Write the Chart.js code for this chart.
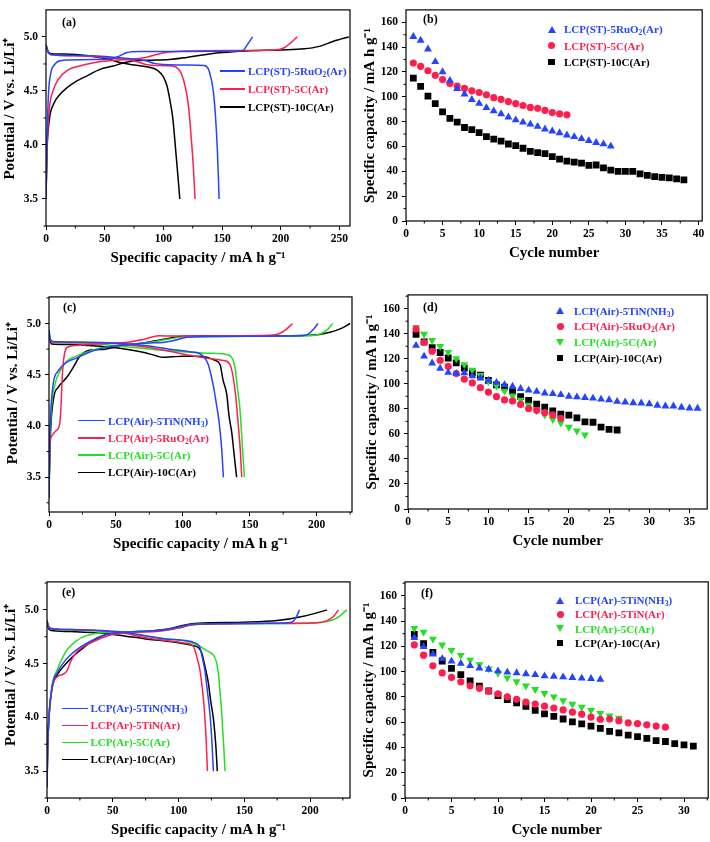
<!DOCTYPE html>
<html>
<head>
<meta charset="utf-8">
<script src="https://cdn.jsdelivr.net/npm/chart.js@4.4.1/dist/chart.umd.min.js"></script>
<style>
  body { margin: 0; background: #fff; width: 710px; height: 842px; position: relative; overflow: hidden;
         font-family: "Liberation Serif", "Times New Roman", serif; font-weight: bold; }
  canvas { position: absolute; }
  .lg { position: absolute; font-size: 11px; line-height: 1; white-space: nowrap; transform: translateY(-50%); }
  .lg sub { font-size: 70%; vertical-align: -0.3em; line-height: 0; }
  .mk { position: absolute; }
  .tag { position: absolute; font-size: 12px; line-height: 1; transform: translateY(-50%); color: #000; }
</style>
</head>
<body>
<script>
const BLUE = '#2444ff', RED = '#ff1f4f', GREEN = '#22e022', BLACK = '#000000';

// tick labels
const potentialTicks = [3.5, 4.0, 4.5, 5.0];
const capacityTicks = [0, 20, 40, 60, 80, 100, 120, 140, 160];
const specCapTicksA = [0, 50, 100, 150, 200, 250];
const specCapTicks = [0, 50, 100, 150, 200];
const cycleTicksB = [0, 5, 10, 15, 20, 25, 30, 35, 40];
const cycleTicksD = [0, 5, 10, 15, 20, 25, 30, 35];
const cycleTicksF = [0, 5, 10, 15, 20, 25, 30];

// ---- (a) charge / discharge curves, [capacity, potential]
const aRuCharge = [[0,3.5],[0.8,4.0],[2,4.45],[4,4.66],[7,4.74],[12,4.78],[20,4.786],[40,4.79],[55,4.795],[62,4.82],[69,4.855],[80,4.865],[120,4.866],[160,4.868],[168,4.875],[171,4.92],[176,5.0]];
const aRuDischarge = [[0,4.92],[2,4.86],[5,4.835],[20,4.828],[40,4.825],[55,4.815],[70,4.8],[85,4.78],[92,4.755],[100,4.745],[120,4.74],[135,4.735],[138.5,4.7],[140.5,4.62],[142.5,4.5],[144.5,4.25],[146,3.95],[147.5,3.5]];
const aCCharge = [[0,3.5],[1,4.0],[3,4.35],[6,4.5],[10,4.6],[18,4.69],[30,4.735],[45,4.77],[60,4.785],[75,4.795],[85,4.81],[95,4.84],[105,4.86],[120,4.87],[160,4.875],[195,4.88],[203,4.9],[209,4.95],[214,5.0]];
const aCDischarge = [[0,4.9],[2,4.85],[5,4.835],[25,4.825],[45,4.815],[60,4.8],[75,4.78],[85,4.745],[95,4.735],[108,4.73],[113,4.7],[116,4.64],[119,4.52],[121.5,4.35],[123.5,4.1],[125.5,3.8],[127,3.5]];
const aTenCharge = [[0,3.5],[0.8,3.93],[2.8,4.23],[6.5,4.38],[12,4.47],[18,4.53],[26,4.59],[35,4.64],[46,4.7],[57,4.73],[66,4.76],[75,4.78],[90,4.785],[105,4.79],[120,4.81],[135,4.835],[150,4.855],[170,4.87],[200,4.88],[220,4.89],[232,4.91],[245,4.96],[258,5.0]];
const aTenDischarge = [[0,4.93],[2,4.86],[5,4.845],[20,4.84],[32,4.83],[45,4.81],[55,4.79],[62,4.765],[75,4.74],[88,4.72],[95,4.69],[100,4.63],[103,4.55],[105.5,4.42],[108,4.25],[110.5,3.95],[112.5,3.7],[114,3.5]];
const aLabels = ['LCP(ST)-5RuO<sub>2</sub>(Ar)', 'LCP(ST)-5C(Ar)', 'LCP(ST)-10C(Ar)'];

// ---- (b) capacity vs cycle
const bRu = [148.5,145.4,138.4,128.2,120.1,113.1,106.6,102.1,97.7,94.6,91.2,88.6,86.3,83.6,81.3,79.5,77.9,76.1,74.0,72.4,70.9,69.1,67.8,66.2,64.6,63.1,62.0,60.2];
const bC = [127.2,124.6,121,117.3,113.9,110.7,108.7,106.8,104.8,103.5,101.6,99.3,98,96.2,94.6,93,91.5,90.7,89.1,87.3,86.3,85.5];
const bTen = [115,108.4,100.6,94.6,87.8,82.6,79.7,75.3,73.5,71.1,68,65.9,64.4,62,60.7,58.6,56,55,54.2,51.9,49.8,48.2,47.4,46.6,44.8,45.1,42.7,40.9,39.9,39.9,39.9,38,36.7,35.7,35.2,34.7,33.9,33.1];
const bLabels = ['LCP(ST)-5RuO<sub>2</sub>(Ar)', 'LCP(ST)-5C(Ar)', 'LCP(ST)-10C(Ar)'];

// ---- (c) charge / discharge curves
const cTiNCharge = [[0,3.3],[0.5,3.8],[1.2,4.1],[3,4.4],[7,4.54],[13,4.62],[20,4.66],[30,4.72],[40,4.76],[55,4.79],[75,4.81],[85,4.815],[95,4.84],[103,4.866],[110,4.87],[150,4.875],[188,4.88],[194,4.9],[198,4.95],[201,5.0]];
const cRuCharge = [[0,3.5],[1,3.85],[2,3.9],[5,3.95],[8,4.02],[9,4.2],[10,4.5],[11.5,4.7],[14,4.77],[20,4.785],[35,4.8],[50,4.81],[60,4.82],[72,4.85],[82,4.88],[95,4.878],[130,4.88],[165,4.885],[172,4.9],[177,4.94],[182,5.0]];
const cCCharge = [[0,3.4],[0.8,3.9],[2,4.2],[4.5,4.41],[8,4.53],[13,4.63],[20,4.68],[26,4.71],[35,4.75],[45,4.775],[55,4.79],[70,4.81],[82,4.83],[95,4.86],[105,4.87],[150,4.875],[195,4.88],[203,4.9],[208,4.94],[212,5.0]];
const cTenCharge = [[0,3.3],[0.7,3.78],[3.2,4.25],[7,4.38],[13,4.47],[18,4.57],[23,4.68],[28,4.73],[35,4.745],[42,4.75],[50,4.77],[58,4.79],[70,4.81],[85,4.845],[100,4.875],[120,4.88],[160,4.88],[195,4.885],[210,4.915],[218,4.95],[225,5.0]];
const cTiNDischarge = [[0,4.93],[1,4.85],[3,4.825],[20,4.82],[40,4.815],[60,4.8],[75,4.78],[90,4.75],[105,4.725],[112,4.71],[116,4.67],[119,4.6],[121,4.5],[123,4.38],[125,4.22],[127,4.05],[129,3.78],[130.3,3.5]];
const cRuDischarge = [[0,4.86],[2,4.82],[20,4.815],[45,4.81],[60,4.79],[75,4.765],[90,4.73],[105,4.69],[118,4.66],[130,4.64],[135.2,4.6],[139,4.35],[141.5,4.0],[143,3.75],[144,3.5]];
const cCDischarge = [[0,4.94],[1,4.85],[3,4.82],[20,4.81],[40,4.795],[60,4.77],[80,4.745],[100,4.725],[120,4.71],[132,4.7],[137,4.66],[139,4.57],[141,4.35],[142.7,4.16],[144.5,3.8],[146,3.5]];
const cTenDischarge = [[0,4.86],[2,4.8],[15,4.795],[30,4.785],[45,4.77],[60,4.745],[72,4.715],[80,4.685],[85,4.67],[92,4.675],[100,4.68],[110,4.68],[118,4.67],[124,4.64],[127.8,4.6],[130,4.45],[132.8,4.31],[134.5,4.1],[136.5,3.94],[138.5,3.7],[140.2,3.5]];
const cLabels = ['LCP(Air)-5TiN(NH<sub>3</sub>)', 'LCP(Air)-5RuO<sub>2</sub>(Ar)', 'LCP(Air)-5C(Ar)', 'LCP(Air)-10C(Ar)'];

// ---- (d) capacity vs cycle
const dTiN = [130.6,122,116.5,112.3,109,108.2,108.7,106.2,104.4,102.8,101,99.2,97.9,96.1,94.8,93.8,92.5,92,91.2,89.9,89.4,88.9,88.4,87.6,87.1,85.8,85.3,84.8,84.5,84,82.7,82.2,82.2,81.2,80.6,80.4];
const dRu = [143.8,133,126,118.8,113.9,108.2,103.8,100.7,96.9,93.3,89.7,87.1,86.3,83.5,80.1,78.8,77,75.2,72.4];
const dC = [145,139.7,134.8,129.9,125.2,120.1,115.4,111,106.7,102,98.4,94.3,90.4,87.1,83,78.6,75.2,71.6,68.8,65.4,62.4,59.3];
const dTen = [139.4,133.5,128.8,125,120.6,116.7,112.6,108.7,106.9,102.8,99.2,97.4,93.8,89.7,86.8,83.7,81.4,78.3,75.8,75,72.7,69.6,69.3,65.4,63.6,63.1];
const dLabels = ['LCP(Air)-5TiN(NH<sub>3</sub>)', 'LCP(Air)-5RuO<sub>2</sub>(Ar)', 'LCP(Air)-5C(Ar)', 'LCP(Air)-10C(Ar)'];

// ---- (e) charge / discharge curves
const eTiNCharge = [[0,3.35],[0.5,3.7],[1.5,4.0],[4,4.3],[8,4.42],[12,4.5],[17,4.57],[25,4.65],[35,4.72],[45,4.77],[55,4.79],[70,4.8],[90,4.815],[100,4.84],[110,4.865],[130,4.87],[170,4.875],[186,4.885],[189,4.92],[192,5.0]];
const eTiNArCharge = [[0,3.35],[0.5,3.7],[1.5,4.0],[4,4.28],[8,4.38],[12,4.4],[15,4.43],[18,4.52],[22,4.6],[28,4.66],[38,4.72],[50,4.77],[65,4.79],[85,4.8],[100,4.83],[110,4.86],[130,4.87],[180,4.875],[205,4.88],[213,4.9],[218,4.94],[221.5,5.0]];
const eCCharge = [[0,3.35],[0.5,3.7],[1.5,4.0],[4,4.3],[8,4.45],[12,4.56],[16,4.64],[22,4.71],[30,4.76],[40,4.785],[55,4.795],[75,4.8],[95,4.82],[105,4.85],[115,4.865],[150,4.87],[200,4.875],[212,4.89],[220,4.92],[228,5.0]];
const eTenCharge = [[0,3.35],[0.5,3.7],[1.5,4.0],[4,4.28],[8,4.4],[13,4.48],[20,4.57],[28,4.65],[36,4.72],[45,4.77],[55,4.79],[75,4.8],[95,4.83],[105,4.86],[115,4.875],[150,4.885],[175,4.9],[195,4.94],[213,5.0]];
const eTiNDischarge = [[0,4.9],[1.5,4.83],[5,4.82],[25,4.815],[45,4.805],[60,4.79],[75,4.76],[90,4.73],[105,4.715],[112,4.695],[116.3,4.65],[118,4.56],[120,4.44],[122,4.24],[124,4.02],[125.5,3.75],[126.5,3.5]];
const eTiNArDischarge = [[0,4.9],[1.5,4.84],[5,4.825],[25,4.815],[45,4.8],[60,4.78],[75,4.74],[90,4.715],[100,4.7],[106,4.69],[111.3,4.66],[114,4.56],[116.3,4.44],[118,4.28],[119.4,4.11],[121,3.8],[122,3.5]];
const eCDischarge = [[0,4.9],[1.5,4.84],[5,4.82],[25,4.81],[45,4.8],[60,4.785],[75,4.755],[90,4.73],[105,4.71],[115,4.67],[121.4,4.62],[126.5,4.58],[128.5,4.53],[130.3,4.41],[131.5,4.25],[132.8,4.05],[134.3,3.75],[135.4,3.5]];
const eTenDischarge = [[0,4.88],[1.5,4.82],[5,4.805],[25,4.795],[45,4.78],[60,4.755],[75,4.73],[90,4.71],[102,4.69],[110,4.67],[115,4.65],[117.6,4.6],[120,4.48],[122.7,4.32],[124.5,4.15],[126.5,3.99],[128.3,3.75],[129.5,3.5]];
const eLabels = ['LCP(Ar)-5TiN(NH<sub>3</sub>)', 'LCP(Ar)-5TiN(Ar)', 'LCP(Ar)-5C(Ar)', 'LCP(Ar)-10C(Ar)'];

// ---- (f) capacity vs cycle
const fTiN = [126.8,119.7,113.8,110.2,108.2,106.4,104.6,102.8,101.8,100.5,99.5,99,98.2,97.5,96.5,96.2,95.7,95.2,94.7,94.4,93.9];
const fTiNAr = [121.2,113,104.6,99,95.4,91.9,88.8,86.8,84.5,82.4,80.1,78.1,75.8,74.3,72.7,71.2,69.7,67.9,66.3,64,62.3,62.5,61.2,59.5,58.9,57.9,56.9,56.1];
const fC = [134.2,131.4,125.8,121.2,116.9,113,109.2,105.6,102.3,98.8,95.2,92.1,88.8,86,82.9,80.1,77.1,74.3,72,69.4,67.1,65.1,63.3];
const fTen = [129.4,122.2,115.3,108.4,102.6,97.7,92.6,88.5,84.7,81.1,77.8,75.3,72.5,69.4,66.6,64.6,62.5,60.2,58.7,56.9,55.1,52.8,51.5,49.8,48.5,47.2,45.4,44.7,43.1,42.1,41.1];
const fLabels = ['LCP(Ar)-5TiN(NH<sub>3</sub>)', 'LCP(Ar)-5TiN(Ar)', 'LCP(Ar)-5C(Ar)', 'LCP(Ar)-10C(Ar)'];

const potentialTitle = 'Potential / V vs. Li/Li\u207A';
const capacityTitle = 'Specific capacity / mA h g\u207B\u00B9';
const cycleTitle = 'Cycle number';

// box outline + minor ticks
const frame = {
    id: 'frame',
    afterDraw(chart, args, opts) {
        const {ctx, chartArea: a, scales} = chart;
        ctx.save();
        ctx.strokeStyle = '#000';
        ctx.lineWidth = 1.2;
        ctx.strokeRect(a.left, a.top, a.right - a.left, a.bottom - a.top);
        ctx.lineWidth = 1;
        ctx.beginPath();
        const xs = scales.x, ys = scales.y;
        for (let v = opts.xMinor; v < xs.max; v += opts.xStep) {
            const p = xs.getPixelForValue(v);
            ctx.moveTo(p, a.bottom); ctx.lineTo(p, a.bottom + 2.5);
        }
        const y0 = Math.ceil((ys.min - opts.yMinor) / opts.yStep) * opts.yStep + opts.yMinor;
        for (let v = y0; v < ys.max; v += opts.yStep) {
            const p = ys.getPixelForValue(v);
            ctx.moveTo(a.left, p); ctx.lineTo(a.left - 2.5, p);
        }
        ctx.stroke();
        ctx.restore();
    }
};

const tickFont = {family: '"Liberation Serif", serif', weight: 'bold', size: 11.5};
const titleFont = {family: '"Liberation Serif", serif', weight: 'bold', size: 15};

function makePanel(box, xCfg, yCfg, datasets, minor) {
    const W = 46, H = 46, T = 4, R = 4;
    const w = Math.round(box.r - box.l + W + R), h = Math.round(box.b - box.t + T + H);
    const cv = document.createElement('canvas');
    cv.width = w; cv.height = h;
    cv.style.left = (box.l - W) + 'px';
    cv.style.top = (box.t - T) + 'px';
    cv.style.width = w + 'px';
    cv.style.height = h + 'px';
    document.body.appendChild(cv);

    new Chart(cv, {
        type: 'scatter',
        data: {datasets},
        options: {
            responsive: false,
            animation: false,
            devicePixelRatio: 1,
            layout: {padding: {left: 0, top: T, right: R, bottom: 0}},
            plugins: {legend: {display: false}, tooltip: {enabled: false}, frame: minor},
            scales: {
                x: {
                    type: 'linear', min: xCfg.min, max: xCfg.max,
                    afterBuildTicks(s) { s.ticks = xCfg.ticks.map(v => ({value: v})); },
                    afterFit(s) { s.height = H; },
                    border: {display: false},
                    grid: {drawOnChartArea: false, drawTicks: true, tickLength: 4, tickColor: '#000', tickWidth: 1},
                    ticks: {autoSkip: false, maxRotation: 0, color: '#000', font: tickFont, padding: 2},
                    title: {display: true, text: xCfg.title, color: '#000', font: titleFont, padding: {top: 0, bottom: 5}}
                },
                y: {
                    type: 'linear', min: yCfg.min, max: yCfg.max,
                    afterBuildTicks(s) { s.ticks = yCfg.ticks.map(v => ({value: v})); },
                    afterFit(s) { s.width = W; },
                    border: {display: false},
                    grid: {drawOnChartArea: false, drawTicks: true, tickLength: 4, tickColor: '#000', tickWidth: 1},
                    ticks: {autoSkip: false, color: '#000', font: tickFont, padding: 4,
                            callback: v => yCfg.digits ? v.toFixed(yCfg.digits) : v},
                    title: {display: true, text: yCfg.title, color: '#000', font: titleFont, padding: {top: 1, bottom: 0}}
                }
            }
        },
        plugins: [frame]
    });
}

function curve(pts, color) {
    return {data: pts.map(([x, y]) => ({x, y})), showLine: true, borderColor: color, borderWidth: 1.5,
            pointRadius: 0, cubicInterpolationMode: 'monotone', fill: false};
}

function marks(vals, color, style) {
    const s = {
        up: {pointStyle: 'triangle', pointRadius: 4.6, pointRotation: 0},
        down: {pointStyle: 'triangle', pointRadius: 4.6, pointRotation: 180},
        circle: {pointStyle: 'circle', pointRadius: 3.6, pointRotation: 0},
        square: {pointStyle: 'rect', pointRadius: 4.8, pointRotation: 0}
    }[style];
    return Object.assign({data: vals.map((v, i) => ({x: i + 1, y: v})), showLine: false,
            backgroundColor: color, borderColor: color, borderWidth: 0}, s);
}

function addLegend(x, y, dy, labels, colors, kinds, textX) {
    labels.forEach((lab, i) => {
        const cy = y + i * dy;
        const m = document.createElement('div');
        m.className = 'mk';
        const k = kinds[i];
        if (k === 'line') {
            Object.assign(m.style, {left: x + 'px', top: (cy - 0.75) + 'px', width: (textX - x - 3) + 'px', height: '1.5px', background: colors[i]});
        } else if (k === 'up' || k === 'down') {
            Object.assign(m.style, {left: (x - 4) + 'px', top: (cy - 3.5) + 'px', width: 0, height: 0,
                borderLeft: '4px solid transparent', borderRight: '4px solid transparent'});
            if (k === 'up') m.style.borderBottom = '7px solid ' + colors[i];
            else m.style.borderTop = '7px solid ' + colors[i];
        } else if (k === 'circle') {
            Object.assign(m.style, {left: (x - 3.5) + 'px', top: (cy - 3.5) + 'px', width: '7px', height: '7px', borderRadius: '50%', background: colors[i]});
        } else {
            Object.assign(m.style, {left: (x - 3.3) + 'px', top: (cy - 3.3) + 'px', width: '6.6px', height: '6.6px', background: colors[i]});
        }
        document.body.appendChild(m);
        const t = document.createElement('div');
        t.className = 'lg';
        t.style.left = textX + 'px';
        t.style.top = cy + 'px';
        t.style.color = colors[i];
        t.innerHTML = lab;
        document.body.appendChild(t);
    });
}

function addTag(text, x, y) {
    const t = document.createElement('div');
    t.className = 'tag';
    t.style.left = x + 'px';
    t.style.top = y + 'px';
    t.textContent = text;
    document.body.appendChild(t);
}

const potMinor = {xMinor: 25, xStep: 50, yMinor: 3.25, yStep: 0.5};
const capMinor = {xMinor: 2.5, xStep: 5, yMinor: 10, yStep: 20};

// (a)
makePanel({l: 46, t: 3, r: 350, b: 226},
    {min: 0, max: 259, ticks: specCapTicksA, title: capacityTitle},
    {min: 3.25, max: 5.25, ticks: potentialTicks, digits: 1, title: '     ' + potentialTitle},
    [curve(aRuCharge, BLUE), curve(aRuDischarge, BLUE), curve(aCCharge, RED), curve(aCDischarge, RED),
     curve(aTenCharge, BLACK), curve(aTenDischarge, BLACK)], potMinor);
addLegend(220, 71, 18, aLabels, [BLUE, RED, BLACK], ['line', 'line', 'line'], 248);
addTag('(a)', 62, 22);

// (b)
makePanel({l: 405.5, t: 3, r: 702, b: 221},
    {min: 0, max: 40.5, ticks: cycleTicksB, title: cycleTitle},
    {min: 0, max: 170, ticks: capacityTicks, title: capacityTitle},
    [marks(bRu, BLUE, 'up'), marks(bC, RED, 'circle'), marks(bTen, BLACK, 'square')], capMinor);
addLegend(551.5, 29, 16.6, bLabels, [BLUE, RED, BLACK], ['up', 'circle', 'square'], 564);
addTag('(b)', 423, 19);

// (c)
makePanel({l: 49, t: 290, r: 352, b: 512},
    {min: 0, max: 226.4, ticks: specCapTicks, title: capacityTitle},
    {min: 3.16, max: 5.26, ticks: potentialTicks, digits: 1, title: '      ' + potentialTitle},
    [curve(cTiNCharge, BLUE), curve(cTiNDischarge, BLUE), curve(cRuCharge, RED), curve(cRuDischarge, RED),
     curve(cCCharge, GREEN), curve(cCDischarge, GREEN), curve(cTenCharge, BLACK), curve(cTenDischarge, BLACK)],
    potMinor);
addLegend(78, 420.7, 17.2, cLabels, [BLUE, RED, GREEN, BLACK], ['line', 'line', 'line', 'line'], 108);
addTag('(c)', 63, 307);

// (d)
makePanel({l: 407.7, t: 288, r: 707.7, b: 509.3},
    {min: 0, max: 37.2, ticks: cycleTicksD, title: cycleTitle},
    {min: 0, max: 171, ticks: capacityTicks, title: capacityTitle},
    [marks(dTiN, BLUE, 'up'), marks(dRu, RED, 'circle'), marks(dC, GREEN, 'down'), marks(dTen, BLACK, 'square')],
    capMinor);
addLegend(560, 310.7, 15.7, dLabels, [BLUE, RED, GREEN, BLACK], ['up', 'circle', 'down', 'square'], 574);
addTag('(d)', 423, 307);

// (e)
makePanel({l: 47, t: 575, r: 350, b: 798},
    {min: 0, max: 230.4, ticks: specCapTicks, title: capacityTitle},
    {min: 3.25, max: 5.26, ticks: potentialTicks, digits: 1, title: '        ' + potentialTitle},
    [curve(eTiNCharge, BLUE), curve(eTiNDischarge, BLUE), curve(eTiNArCharge, RED), curve(eTiNArDischarge, RED),
     curve(eCCharge, GREEN), curve(eCDischarge, GREEN), curve(eTenCharge, BLACK), curve(eTenDischarge, BLACK)],
    potMinor);
addLegend(62, 708.3, 17, eLabels, [BLUE, RED, GREEN, BLACK], ['line', 'line', 'line', 'line'], 90.5);
addTag('(e)', 62, 592);

// (f)
makePanel({l: 404.5, t: 575, r: 708, b: 798.3},
    {min: 0, max: 32.6, ticks: cycleTicksF, title: cycleTitle},
    {min: 0, max: 171, ticks: capacityTicks, title: capacityTitle},
    [marks(fTiN, BLUE, 'up'), marks(fTiNAr, RED, 'circle'), marks(fC, GREEN, 'down'), marks(fTen, BLACK, 'square')],
    capMinor);
addLegend(560, 600, 14.3, fLabels, [BLUE, RED, GREEN, BLACK], ['up', 'circle', 'down', 'square'], 575);
addTag('(f)', 421, 593);
</script>
</body>
</html>
